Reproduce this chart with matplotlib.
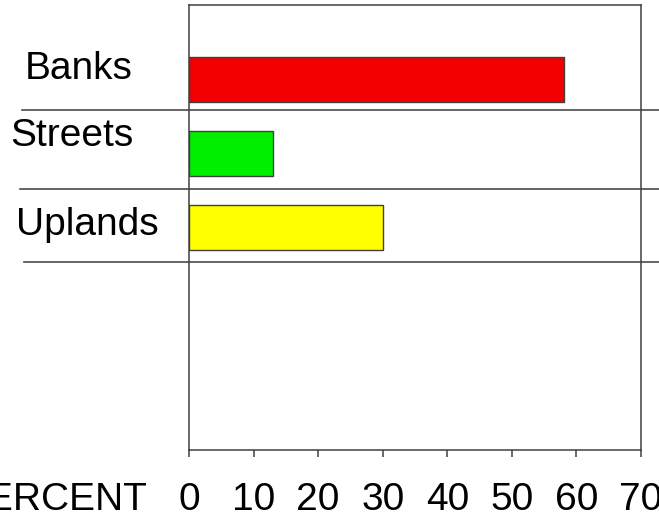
import matplotlib
matplotlib.use("Agg")
import matplotlib.pyplot as plt

# data
categories = ["Banks", "Streets", "Uplands"]
percent = [58, 13, 30]
colors = ["#f20000", "#00f000", "#ffff00"]
xticks = [0, 10, 20, 30, 40, 50, 60, 70]
# separator lines between the rows (in category units)
separators = [0.41, 1.48, 2.47]

plt.rcParams['font.family'] = ['Liberation Sans', 'DejaVu Sans']

fig = plt.figure(figsize=(6.59, 5.18), dpi=100)
ax = fig.add_axes([189 / 659, 68 / 518, 452 / 659, 445 / 518])

ypos = list(range(len(categories)))
ax.barh(ypos, percent, height=0.61, color=colors, edgecolor="#404040", linewidth=1)

ax.set_xlim(0, 70)
ax.set_ylim(5.0, -1.0)

# spines
for side in ["left", "right", "top", "bottom"]:
    ax.spines[side].set_color("#404040")
    ax.spines[side].set_linewidth(1.1)

ax.set_yticks([])
ax.set_xticks(xticks)
ax.set_xticklabels([str(t) for t in xticks], fontsize=28)
ax.tick_params(axis="x", direction="out", length=5, width=1.1, color="#404040", pad=18)

# the long separator lines that run past the frame
starts = [-0.37, -0.375, -0.365]
for y, x0 in zip(separators, starts):
    ax.axhline(y, xmin=x0, xmax=1.06, color="#4a4a4a", linewidth=1.2, clip_on=False)

# row labels (centred left of the frame, a bit above each bar)
label_dx = [-0.244, -0.260, -0.224]
label_dy = [-0.14, -0.23, -0.04]
for i, name in enumerate(categories):
    ax.text(label_dx[i], i + label_dy[i], name, transform=ax.get_yaxis_transform(),
            ha="center", va="center", fontsize=28)

ax.text(-0.091, -0.112, "PERCENT", transform=ax.transAxes,
        ha="right", va="center", fontsize=28)

fig.savefig("out.png", dpi=100)
